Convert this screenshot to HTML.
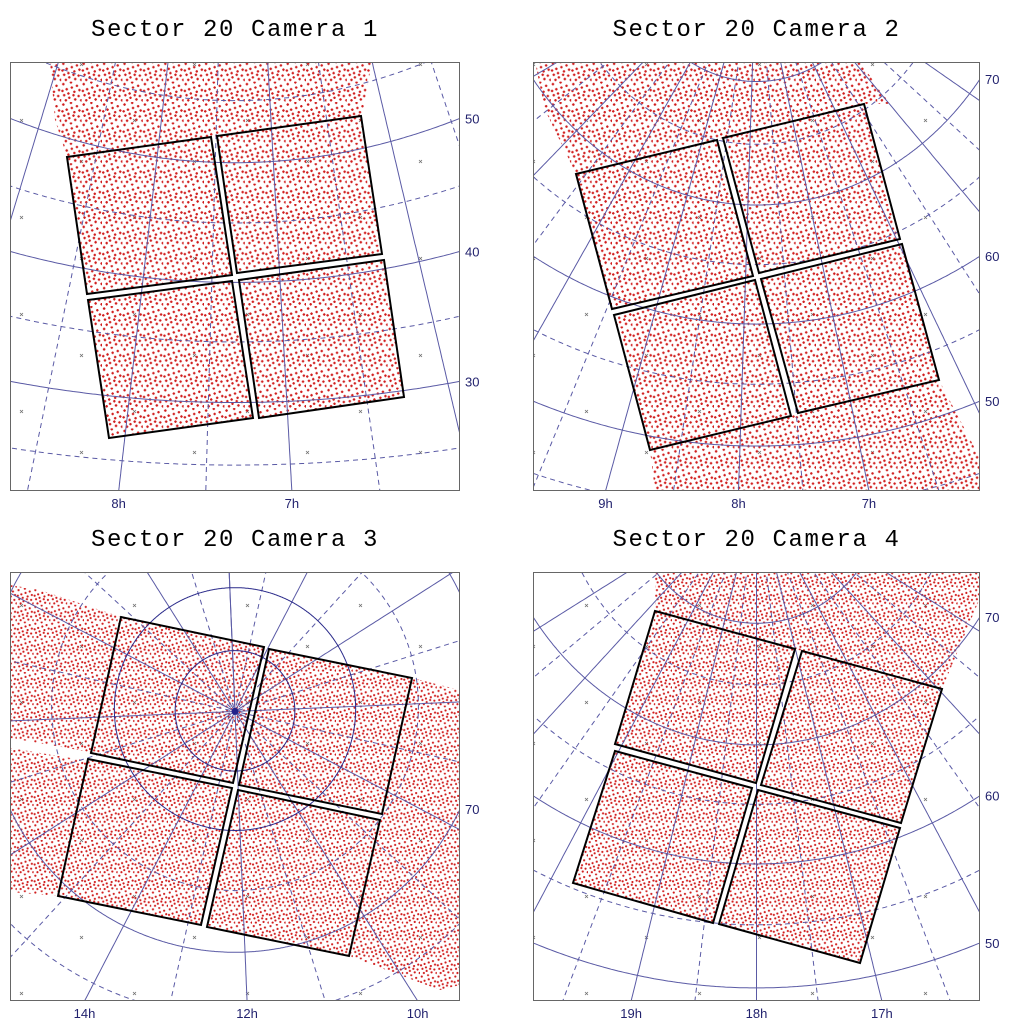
<!DOCTYPE html>
<html><head><meta charset="utf-8"><style>
html,body{margin:0;padding:0;background:#fff;width:1024px;height:1024px;overflow:hidden;}
svg{display:block;}
.t{font-family:"Liberation Mono",monospace;font-size:24px;letter-spacing:1.6px;fill:#000;}
.lab{font-family:"Liberation Sans",sans-serif;font-size:13px;fill:#22226e;}
</style></head><body>
<svg id="chart" width="1024" height="1024" viewBox="0 0 1024 1024" xmlns="http://www.w3.org/2000/svg">
<defs>
<pattern id="redA" width="24" height="24" patternUnits="userSpaceOnUse" patternTransform="scale(0.85)">
<path d="M1,3h3M2.5,1.5v3 M10,1h3M11.5,-0.5v3 M17,5h3M18.5,3.5v3 M5,9h3M6.5,7.5v3 M14,12h3M15.5,10.5v3 M2,16h3M3.5,14.5v3 M8,19h3M9.5,17.5v3 M19,17h3M20.5,15.5v3 M11,7h3M12.5,5.5v3 M0,11h3M1.5,9.5v3 M20,10h3M21.5,8.5v3 M7,14h3M8.5,12.5v3 M15,21h3M16.5,19.5v3 M4,22h3M5.5,20.5v3 M13,16h3M14.5,14.5v3 M22,22h3M23.5,20.5v3" stroke="#d01c1c" stroke-width="1.5"/>
</pattern>
<pattern id="redB" width="24" height="24" patternUnits="userSpaceOnUse" patternTransform="scale(0.7)">
<path d="M1,3h3M2.5,1.5v3 M10,1h3M11.5,-0.5v3 M17,5h3M18.5,3.5v3 M5,9h3M6.5,7.5v3 M14,12h3M15.5,10.5v3 M2,16h3M3.5,14.5v3 M8,19h3M9.5,17.5v3 M19,17h3M20.5,15.5v3 M11,7h3M12.5,5.5v3 M0,11h3M1.5,9.5v3 M20,10h3M21.5,8.5v3 M7,14h3M8.5,12.5v3 M15,21h3M16.5,19.5v3 M4,22h3M5.5,20.5v3 M13,16h3M14.5,14.5v3 M22,22h3M23.5,20.5v3" stroke="#d01c1c" stroke-width="1.8"/>
</pattern>
<pattern id="blk" width="113" height="97" patternUnits="userSpaceOnUse">
<path d="M20,22l3,3M23,22l-3,3 M80,63l3,3M83,63l-3,3" stroke="#333" stroke-width="0.8"/>
</pattern>
</defs>
<g id="panels"></g>
</svg>
<script>
// ---- data ----
const panelTitles = ["Sector 20 Camera 1","Sector 20 Camera 2","Sector 20 Camera 3","Sector 20 Camera 4"];
const centerRA = [7.33, 7.86, 12.16, 18.0];      // hours
const centerDec = [40.5, 64.0, 83.7, 66.5];      // degrees
const raRange = [[5,10],[4,12],[0,24],[14,22]];
const raStep = [0.5,0.5,1,0.5];
const raSolidEvery = [1,1,2,1];
const decLines = [[15,20,25,30,35,40,45,50,55,60,65],[35,40,45,50,55,60,65,70,75,80,85],[55,60,65,70,75,80,85],[35,40,45,50,55,60,65,70,75,80,85]];
const decSolid = [[20,30,40,50,60],[40,50,60,70,80],[70,80,85],[40,50,60,70,80]];
const decLabels = [[50,40,30],[70,60,50],[70],[70,60,50]];
const raLabels = [[8,7],[9,8,7],[14,12,10],[19,18,17]];
const ccds = [
 [[[67,157],[211,137],[232,275],[87,294]],[[217,136],[361,116],[382,254],[237,273]],[[88,300],[232,281],[253,418],[109,438]],[[239,280],[384,260],[404,397],[259,418]]],
 [[[576,174],[717,140],[753,276],[612,309]],[[723,138],[864,104],[900,239],[759,273]],[[614,315],[755,280],[791,416],[650,450]],[[761,279],[902,244],[939,380],[798,413]]],
 [[[121,617],[264,647],[233,783],[91,753]],[[269,649],[412,678],[382,814],[239,785]],[[88,759],[232,788],[201,925],[58,896]],[[238,790],[380,820],[349,956],[207,927]]],
 [[[655,611],[795,649],[756,783],[615,744]],[[802,651],[942,689],[901,823],[761,785]],[[615,751],[752,788],[713,923],[573,883]],[[758,790],[900,828],[860,963],[719,924]]]
];
const fields = [
 [[[50,62],[372,62],[362,116],[211,137],[67,157],[55,120]]],
 [[[535,62],[860,62],[890,104],[864,104],[723,138],[576,174],[545,110]],[[650,450],[939,380],[982,462],[982,491],[655,491]]],
 [[[10,585],[40,590],[121,617],[91,753],[58,896],[10,892]],[[412,678],[460,690],[460,985],[440,990],[349,956],[382,814]]],
 [[[655,572],[980,572],[980,598],[942,689],[795,649],[655,611]]]
];
// ---- layout ----
const boxes=[[10,62,460,491],[533,62,980,491],[10,572,460,1001],[533,572,980,1001]];
const NS="http://www.w3.org/2000/svg";
const rad=Math.PI/180;
function mk(tag,attrs,parent){const e=document.createElementNS(NS,tag);for(const k in attrs)e.setAttribute(k,attrs[k]);parent.appendChild(e);return e;}
function proj(i,raH,dec){
  const b=boxes[i],cx=(b[0]+b[2])/2,cy=(b[1]+b[3])/2,s=680;
  const a=(raH-centerRA[i])*15*rad,d=dec*rad,d0=centerDec[i]*rad;
  const cc=Math.sin(d0)*Math.sin(d)+Math.cos(d0)*Math.cos(d)*Math.cos(a);
  const x=Math.cos(d)*Math.sin(a)/cc,y=(Math.cos(d0)*Math.sin(d)-Math.sin(d0)*Math.cos(d)*Math.cos(a))/cc;
  return [cx-s*x,cy-s*y,cc];
}
function pathOf(pts){let d="",pen=false;for(const p of pts){if(!p||p[2]<0.15||Math.abs(p[0])>5000||Math.abs(p[1])>5000){pen=false;continue;}d+=(pen?"L":"M")+p[0].toFixed(1)+","+p[1].toFixed(1);pen=true;}return d;}
const root=document.getElementById('panels');
for(let i=0;i<4;i++){
  const b=boxes[i];
  const g=mk('g',{},root);
  
  
  const cp=mk('clipPath',{id:'cp'+i},g);mk('rect',{x:b[0],y:b[1],width:b[2]-b[0],height:b[3]-b[1]},cp);
  const t=mk('text',{x:(b[0]+b[2])/2,y:b[1]-26,'text-anchor':'middle',class:'t'},g);
  t.textContent=panelTitles[i];
  
  
  const inner=mk('g',{'clip-path':'url(#cp'+i+')'},g);
  mk('rect',{x:b[0],y:b[1],width:b[2]-b[0],height:b[3]-b[1],fill:'url(#blk)',opacity:0.7},inner);
  const pat=(i>=2)?'url(#redB)':'url(#redA)';
  for(const f of fields[i]){
    const p=mk('polygon',{points:f.map(q=>q.join(',')).join(' '),fill:pat},inner);
    
    
  }
  for(const c of ccds[i]){
    const p=mk('polygon',{points:c.map(q=>q.join(',')).join(' '),fill:pat},inner);
    
    
  }
  if(i===2){mk('polygon',{points:'10,738 90,752 89,761 10,748',fill:'#fff'},inner);}
  for(let ra=raRange[i][0];ra<=raRange[i][1]+1e-9;ra+=raStep[i]){
    const pts=[];for(let d=-10;d<=89.99;d+=0.25)pts.push(proj(i,ra,Math.min(d,89.99)));
    const solid=Math.abs(ra/raSolidEvery[i]-Math.round(ra/raSolidEvery[i]))<1e-6;
    const l=mk('path',{d:pathOf(pts),fill:'none',stroke:'#5a5aa5','stroke-width':1,'stroke-dasharray':solid?'none':'5,4'},inner);
    
    
  }
  for(const dec of decLines[i]){
    const pts=[];const r0=centerRA[i]-(i===2?12:7),r1=centerRA[i]+(i===2?12:7);
    for(let ra=r0;ra<=r1;ra+=0.02)pts.push(proj(i,ra,dec));
    const solid=decSolid[i].includes(dec);
    const l=mk('path',{d:pathOf(pts),fill:'none',stroke:i===2&&dec>=80?'#2a2a8a':'#5a5aa5','stroke-width':1,'stroke-dasharray':solid?'none':'5,4'},inner);
    
    
  }
  if(i===2){const p=proj(2,12,90);mk('circle',{cx:p[0],cy:p[1],r:3.5,fill:'#22228a'},inner);}
  for(const c of ccds[i]){
    const p=mk('polygon',{points:c.map(q=>q.join(',')).join(' '),fill:'none',stroke:'#000','stroke-width':2},g);
    
    
  }
  mk('rect',{x:b[0]+0.5,y:b[1]+0.5,width:b[2]-b[0]-1,height:b[3]-b[1]-1,fill:'none',stroke:'#666','stroke-width':1},g);
  for(const ra of raLabels[i]){
    let prev=null,xc=null;
    for(let d=-10;d<=89.9;d+=0.05){const p=proj(i,ra,d);if(prev&&(prev[1]-b[3])*(p[1]-b[3])<=0){xc=prev[0]+(p[0]-prev[0])*(b[3]-prev[1])/(p[1]-prev[1]);break;}prev=p;}
    if(xc===null)continue;
    const tx=mk('text',{x:xc,y:b[3]+17,'text-anchor':'middle',class:'lab'},g);
    tx.textContent=ra+'h';
    
    
  }
  for(const dec of decLabels[i]){
    let prev=null,best=null;
    const span=(i===2)?24:12;
    for(let ra=centerRA[i]-span;ra<=centerRA[i];ra+=0.005){const p=proj(i,ra,dec);if(p[2]>0.15&&prev&&(prev[0]-b[2])*(p[0]-b[2])<=0){const yc=prev[1]+(p[1]-prev[1])*(b[2]-prev[0])/(p[0]-prev[0]);if(yc>b[1]&&yc<b[3]&&(best===null||yc>best))best=yc;}prev=p[2]>0.15?p:null;}
    if(best===null)continue;
    const tx=mk('text',{x:b[2]+5,y:best+5,class:'lab'},g);
    tx.textContent=String(dec);
    
    
  }
}
</script>
</body></html>
